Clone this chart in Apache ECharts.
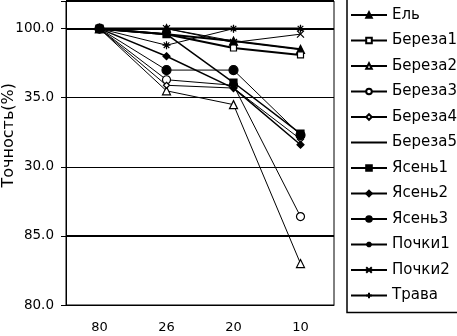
<!DOCTYPE html>
<html><head><meta charset="utf-8">
<script src="https://cdn.jsdelivr.net/npm/echarts@6/dist/echarts.min.js"></script>
<style>html,body{margin:0;padding:0;background:#fff}#c{width:457px;height:336px}</style>
</head><body><div id="c"></div>
<script>
const categories = ['80', '26', '20', '10'];
const yTickValues = [80, 85, 90, 95, 100];
const yTickLabels = ['80.0', '85.0', '30.0', '35.0', '100.0'];
const axisTitle = 'Точность(%)';

const el      = [100, 100, 99.1, 98.5];
const bereza1 = [100, 99.6, 98.6, 98.1];
const bereza2 = [100, 95.5, 94.5, 83.0];
const bereza3 = [100, 96.3, 95.9, 86.4];
const bereza4 = [100, 95.9, 95.7, 92.0];
const bereza5 = [100, 99.6, 99.1, 98.5];
const yasen1  = [100, 99.6, 96.1, 92.4];
const yasen2  = [100, 98.0, 95.7, 91.6];
const yasen3  = [100, 97.0, 97.0, 92.3];
const pochki1 = [100, 98.8, 100, 100];
const pochki2 = [100, 100, 99.0, 99.6];
const trava   = [100, 100, 100, 100];

const STAR = 'path://M5,0L5,10M0,5L10,5M1.5,1.5L8.5,8.5M8.5,1.5L1.5,8.5';
const CROSS = 'path://M0,0L10,10M10,0L0,10';
const PLUS = 'path://M5,0L5,10M0,5L10,5';

function s(name, data, symbol, size, filled, width, showSymbol = true) {
  return {
    name, type: 'line', data, symbol, symbolSize: size, showSymbol,
    lineStyle: { color: '#000', width },
    itemStyle: { color: filled ? '#000' : '#fff', borderColor: '#000', borderWidth: 1.2 },
    emphasis: { disabled: true }, animation: false
  };
}

const series = [
  s('Ель', el, 'triangle', 8, true, 1),
  s('Береза1', bereza1, 'rect', 6, false, 2),
  s('Береза2', bereza2, 'triangle', 8, false, 1),
  s('Береза3', bereza3, 'circle', 8, false, 1),
  s('Береза4', bereza4, 'diamond', 6, false, 1),
  s('Береза5', bereza5, 'circle', 1, true, 2, false),
  s('Ясень1', yasen1, 'rect', 7, true, 1.5),
  s('Ясень2', yasen2, 'diamond', 7, true, 1.5),
  s('Ясень3', yasen3, 'circle', 9, true, 1),
  s('Почки1', pochki1, STAR, 8, true, 1),
  s('Почки2', pochki2, CROSS, 7, true, 1),
  s('Трава', trava, PLUS, 7, true, 2.5)
];
series[11].markLine = {
  silent: true, symbol: 'none', label: { show: false },
  lineStyle: { color: '#000', width: 2, type: 'solid' },
  data: [{ yAxis: 100 }, { yAxis: 85 }, { yAxis: 102 }]
};

const legendData = series.map(x => {
  if (x.name === 'Береза5') {
    return {
      name: x.name,
      itemStyle: { color: 'rgba(0,0,0,0)', borderColor: 'rgba(0,0,0,0)', borderWidth: 0 }
    };
  }
  return x.name;
});

const chart = echarts.init(document.getElementById('c'), null, { renderer: 'canvas' });
chart.setOption({
  backgroundColor: '#fff',
  animation: false,
  grid: { left: 66, right: 123, top: 1, bottom: 31, show: true, borderColor: '#000', borderWidth: 1, backgroundColor: 'transparent' },
  xAxis: {
    type: 'category', data: categories, boundaryGap: true,
    axisLine: { lineStyle: { color: '#000', width: 1 } },
    axisTick: { length: 6, lineStyle: { color: '#000', width: 1.5 } },
    axisLabel: { color: '#000', fontSize: 13, fontFamily: 'DejaVu Sans', margin: 16 },
    splitLine: { show: false }
  },
  yAxis: {
    type: 'value', min: 80, max: 102, interval: 5,
    axisLine: { show: true, lineStyle: { color: '#000', width: 1 } },
    axisTick: { show: true, length: 5, lineStyle: { color: '#000' } },
    axisLabel: {
      color: '#000', fontSize: 13.5, fontFamily: 'DejaVu Sans', margin: 12,
      formatter: v => { const i = yTickValues.indexOf(v); return i >= 0 ? yTickLabels[i] : ''; }
    },
    splitLine: { show: true, lineStyle: { color: '#000', width: 1 } }
  },
  legend: {
    orient: 'vertical', left: 347, top: -1,
    padding: [8, 4, 9, 3], itemGap: 9.5, itemWidth: 36, itemHeight: 7,
    borderColor: '#000', borderWidth: 1.5, backgroundColor: '#fff',
    textStyle: { color: '#000', fontSize: 15, fontFamily: 'DejaVu Sans', lineHeight: 16 },
    data: legendData
  },
  graphic: [{
    type: 'text', left: 1, top: 83, rotation: Math.PI / 2,
    style: { text: axisTitle, fontSize: 16, fontFamily: 'DejaVu Sans', fill: '#000' }
  }],
  series
});
</script></body></html>
